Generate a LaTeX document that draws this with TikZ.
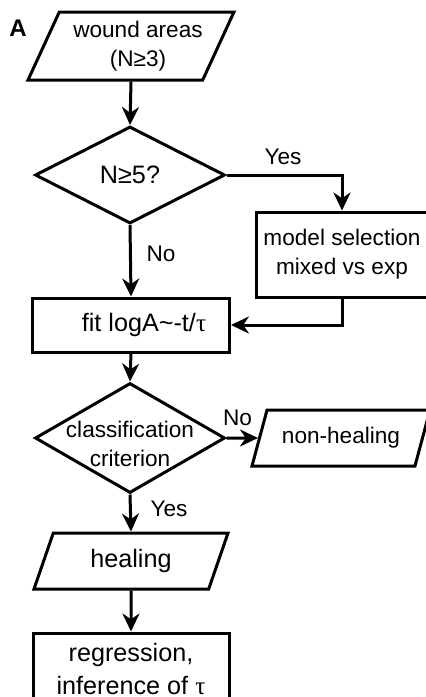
\documentclass[tikz,border=0pt]{standalone}
\usepackage{fontspec}
\setmainfont{Liberation Sans}
\newfontfamily\taufont{Liberation Serif}
\usetikzlibrary{shapes.geometric,arrows.meta,positioning}
\tikzset{
mybox/.style={
  rectangle,
  draw=black,
  line width=1.5pt,
  align=center,
  inner sep=0pt
  },
mydiam/.style={
  diamond,
  aspect=#1,
  draw=black,
  line width=1.5pt,
  align=center,
  inner xsep=0pt,
  inner ysep=-4pt,
  minimum width=95pt
  },
mypar/.style={
  trapezium,
  trapezium left angle=#1,
  trapezium right angle=180-#1,
  trapezium stretches body,
  draw=black,
  line width=1.5pt,
  align=center,
  inner sep=0pt
  },
bigtxt/.style={font=\fontsize{12.6pt}{16.5pt}\selectfont}
}

\begin{document}
\begin{tikzpicture}[x=0.5pt,y=-0.5pt,>={Stealth[length=9pt,width=8.5pt]},
    font=\fontsize{11.3pt}{14.5pt}\selectfont]
\useasboundingbox (0,0) rectangle (426,697);
\clip (0,0) rectangle (426,697);

\node[font=\fontsize{12pt}{14pt}\selectfont\bfseries] (lblA) at (18,28.5) {A};

\node[mypar=58, minimum width=101pt, minimum height=34pt] (areas) at (131,46)
  {\hspace*{7pt}wound areas\\\hspace*{7pt}(N≥3)};
\node[mydiam=1.96, bigtxt, minimum height=48.5pt] (nfive) at (130,175) {N≥5?};
\node[mybox, minimum width=86pt, minimum height=42.5pt] (select) at (342,254.5)
  {model selection\\mixed vs exp};
\node[mybox, bigtxt, minimum width=98.5pt, minimum height=27pt] (fit) at (131,325)
  {\hspace*{13pt}fit logA\textasciitilde-t/{\taufont τ}};
% strut pushes the two lines down into the wide part
\node[mydiam=1.727, inner ysep=-7.5pt, minimum height=55pt] (crit) at (130,438)
  {\rule{0pt}{14pt}classification\\criterion};
\node[mypar=54.5, minimum width=89pt, minimum height=28pt] (nonheal) at (341,438)
  {non-healing};
\node[mypar=50.6, bigtxt, minimum width=97pt, minimum height=28pt] (heal) at (131,561)
  {healing};
\node[mybox, bigtxt, minimum width=98pt, minimum height=35.5pt] (regr) at (131,668.5)
  {regression,\\inference of {\taufont τ}};

\begin{scope}[line width=1.5pt]
\draw[->] (areas.south) -- (nfive.north);
\draw[->] (nfive.east) -| node[pos=0.245,above=1pt] (yesA) {Yes} (select.north);
\draw[->] (nfive.south) -- node[pos=0.4,right=4pt] (noA) {No} (fit.north);
\draw[->] (select.south) |- (fit.east);
\draw[->] (fit.south) -- (crit.north);
\draw[->] (crit.east) -- node[pos=0.35,above=2pt] (noB) {No} (nonheal.west);
\draw[->] (crit.south) -- node[pos=0.375,right=6pt] (yesB) {Yes} (heal.north);
\draw[->] (heal.south) -- (regr.north);
\end{scope}
\end{tikzpicture}
\end{document}
